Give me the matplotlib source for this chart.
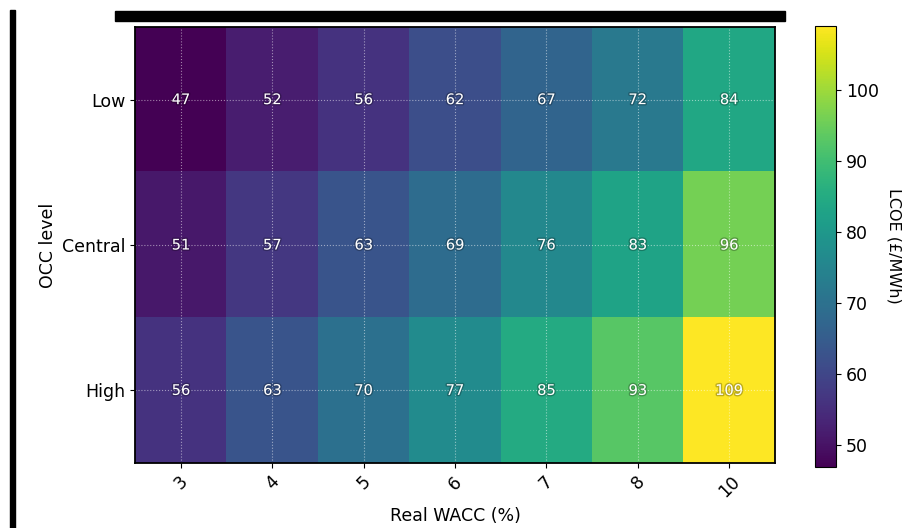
import numpy as np
import matplotlib.pyplot as plt
import matplotlib.patheffects as pe
from matplotlib.patches import Rectangle

wacc = ['3', '4', '5', '6', '7', '8', '10']
occ_levels = ['Low', 'Central', 'High']
lcoe_low = [47, 52, 56, 62, 67, 72, 84]
lcoe_central = [51, 57, 63, 69, 76, 83, 96]
lcoe_high = [56, 63, 70, 77, 85, 93, 109]

grid = np.array([lcoe_low, lcoe_central, lcoe_high])

fig = plt.figure(figsize=(9.02, 5.28), dpi=100)
ax = fig.add_axes([0.150, 0.123, 0.709, 0.826])
cax = fig.add_axes([0.904, 0.116, 0.023, 0.835])

im = ax.imshow(grid, cmap='viridis', aspect='auto', vmin=grid.min(), vmax=grid.max())
ax.set_xticks(np.arange(len(wacc)))
ax.set_xticklabels(wacc, rotation=45, fontsize=12.5)
ax.set_yticks(np.arange(len(occ_levels)))
ax.set_yticklabels(occ_levels, fontsize=12.5)
ax.set_xlabel('Real WACC (%)', fontsize=12.5)
ax.set_ylabel('OCC level', fontsize=12.5)
ax.grid(True, color='white', linestyle=':', linewidth=0.8, alpha=0.5)
for s in ax.spines.values():
    s.set_linewidth(1.3)

for i in range(grid.shape[0]):
    for j in range(grid.shape[1]):
        ax.text(j, i, str(grid[i, j]), ha='center', va='center', color='white', fontsize=10.5,
                path_effects=[pe.withStroke(linewidth=2, foreground='black', alpha=0.25)])

cb = fig.colorbar(im, cax=cax)
cb.set_ticks([50, 60, 70, 80, 90, 100])
cb.ax.tick_params(labelsize=12.5)
cb.set_label('LCOE (£/MWh)', rotation=270, labelpad=16, fontsize=11.5)

# black borders left over from the cropped screenshot
fig.add_artist(Rectangle((115 / 902, 1 - 21 / 528), 670 / 902, 10 / 528,
                         transform=fig.transFigure, color='black', zorder=5))
fig.add_artist(Rectangle((10 / 902, 0), 5 / 902, 1 - 10 / 528,
                         transform=fig.transFigure, color='black', zorder=5))

fig.savefig('out.png', dpi=100)
